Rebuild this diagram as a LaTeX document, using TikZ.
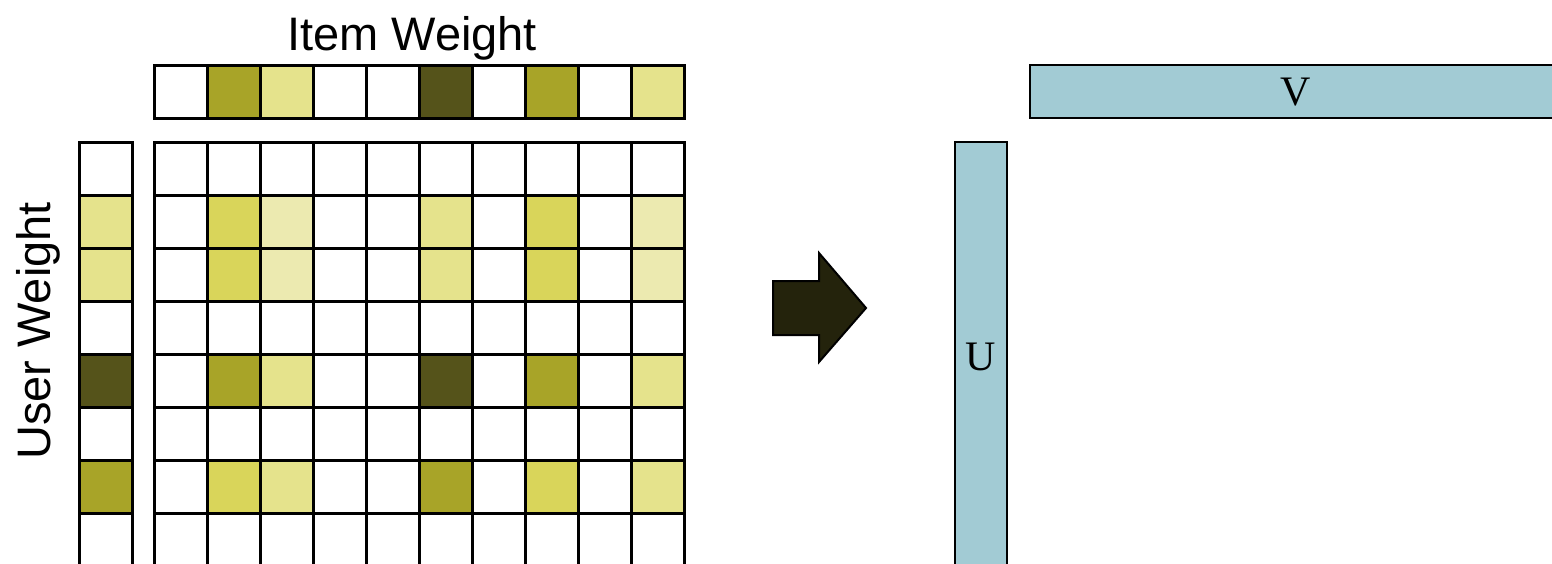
\documentclass[tikz,border=0pt]{standalone}
\usepackage{fontspec}
\setmainfont{Liberation Serif}
\newfontfamily\labelfont{Liberation Sans}
\definecolor{cD}{HTML}{55531A}
\definecolor{cM}{HTML}{A8A428}
\definecolor{cY}{HTML}{D9D55A}
\definecolor{cL}{HTML}{E5E38C}
\definecolor{cV}{HTML}{ECEAB0}
\definecolor{barblue}{HTML}{A2CBD4}
\definecolor{arrowc}{HTML}{24230C}
\begin{document}
\begin{tikzpicture}[x=1pt,y=-1pt,
  cellbox/.style={draw=black, line width=3pt},
  barbox/.style={draw=black, line width=2pt, fill=barblue},
  axislabel/.style={font=\labelfont\fontsize{47}{50}\selectfont, inner sep=0pt},
  barlabel/.style={font=\fontsize{42}{46}\selectfont, inner sep=0pt}]
\useasboundingbox (0,0) rectangle (1552,563);
\clip (0,0) rectangle (1552,563);
% item weight row
\foreach \c [count=\i from 0] in {white,cM,cL,white,white,cD,white,cM,white,cL}
  \draw[cellbox, fill=\c] ({154+53*\i},65) rectangle ++(53,53);
% user weight column
\foreach \c [count=\r from 0] in {white,cL,cL,white,cD,white,cM,white}
  \draw[cellbox, fill=\c] (79,{142+53*\r}) rectangle ++(53,53);
% main grid
\foreach \rowc [count=\r from 0] in {
  {white,white,white,white,white,white,white,white,white,white},
  {white,cY,cV,white,white,cL,white,cY,white,cV},
  {white,cY,cV,white,white,cL,white,cY,white,cV},
  {white,white,white,white,white,white,white,white,white,white},
  {white,cM,cL,white,white,cD,white,cM,white,cL},
  {white,white,white,white,white,white,white,white,white,white},
  {white,cY,cL,white,white,cM,white,cY,white,cL},
  {white,white,white,white,white,white,white,white,white,white}}
{
  \foreach \c [count=\i from 0] in \rowc
    \draw[cellbox, fill=\c] ({154+53*\i},{142+53*\r}) rectangle ++(53,53);
}
% labels
\node[axislabel, anchor=base] (item) at (412,50) {Item Weight};
\node[axislabel, anchor=base, rotate=90] (user) at (50,331) {User Weight};
% arrow
\draw[fill=arrowc, line width=2pt, line join=miter] (773,281) -- (819,281) -- (819,253) -- (866,308) -- (819,362) -- (819,335) -- (773,335) -- cycle;
% U and V
\draw[barbox] (955,142) rectangle (1007,600);
\node[barlabel] (U) at (981,357) {U};
\draw[barbox] (1030,65) rectangle (1600,118);
\node[barlabel] (V) at (1296,92) {V};
\end{tikzpicture}
\end{document}
